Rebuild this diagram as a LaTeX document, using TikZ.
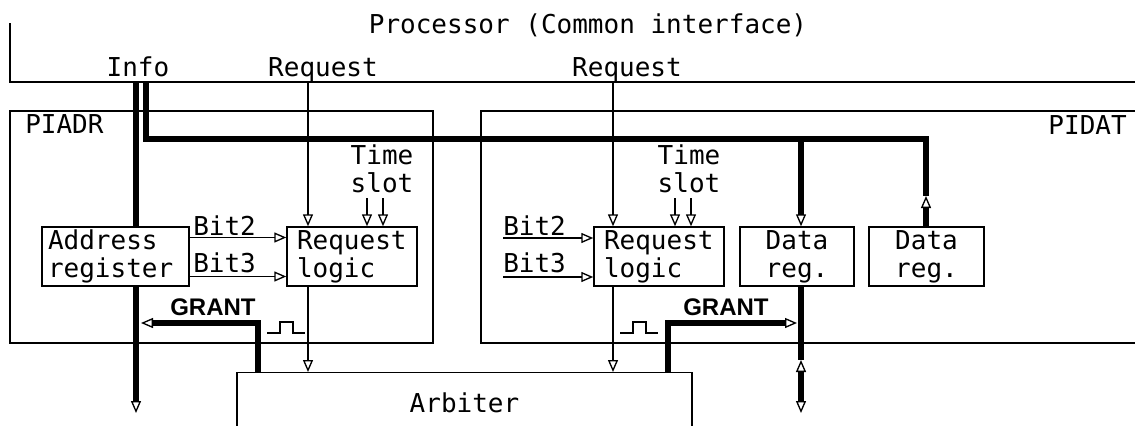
\documentclass[tikz,border=0pt]{standalone}
\usepackage{fontspec}
\newfontfamily\diagfont{DejaVu Sans Mono}
\newfontfamily\grantfont{Liberation Sans}
\usetikzlibrary{arrows.meta, calc, positioning}

\begin{document}
\begin{tikzpicture}[
  x=0.75pt, y=-0.75pt,
  lbl/.style={inner sep=0pt, font=\diagfont\fontsize{19.5}{21}\selectfont},
  blk/.style={draw, line width=1.1pt, fill=white, minimum height=44.25pt, inner ysep=0pt, font=\diagfont\fontsize{19.5}{21}\selectfont},
  cont/.style={draw, line width=1.1pt, inner sep=0pt},
  otip/.tip={Triangle[open, length=9pt, width=7.5pt, line width=1pt]},
  sarr/.style={line width=1.1pt, -otip},
  thk/.style={line width=4.5pt},
  gnt/.style={inner sep=0pt, font=\grantfont\bfseries\fontsize{18}{20}\selectfont}
]
  \useasboundingbox (0,0) rectangle (1135,425);
  \clip (0,0) rectangle (1135,425);

  % 1. Processor bus
  \node[lbl, anchor=base] (proc) at (588,33) {Processor (Common interface)};
  \coordinate (ptop) at (10,23);
  \coordinate (busL) at (10,82);
  \coordinate (busR) at (1140,82);
  \draw[line width=1.1pt] (ptop) -- (busL) -- (busR);
  \node[lbl, anchor=base] (info) at (138,76) {Info};
  \node[lbl, anchor=base] (req1) at (323,76) {Request};
  \node[lbl, anchor=base] (req2) at (627,76) {Request};

  % 2. Interfaces
  \node[cont, minimum width=317.25pt, minimum height=174pt] (piadr) at (221.5,227) {};
  \node[cont, minimum width=501.75pt, minimum height=174pt] (pidat) at (815.5,227) {};
  \node[lbl, anchor=base west] (piadrl) at (25,133) {PIADR};
  \node[lbl, anchor=base east] (pidatl) at (1127,134) {PIDAT};

  % Arbiter
  \node[cont, lbl, draw, line width=1.1pt, anchor=north, minimum width=341.25pt, minimum height=45pt] (arb) at (464.5,372) {Arbiter};

  % Blocks
  \node[blk, text width=101.25pt, inner xsep=4.5pt, align=left] (adr) at (115.5,256.5) {Address\\register};
  \node[blk, text width=82.5pt, inner xsep=7.5pt, align=left] (rl1) at (352,256.5) {Request\\logic};
  \node[blk, text width=82.5pt, inner xsep=7.5pt, align=left] (rl2) at (659,256.5) {Request\\logic};
  \node[blk, minimum width=85.5pt, align=center] (dr1) at (797,256.5) {Data\\reg.};
  \node[blk, minimum width=86.25pt, align=center] (dr2) at (926.5,256.5) {Data\\reg.};

  % 3. Info lines
  \coordinate (infoA) at (136,82);
  \coordinate (infoB) at (146,82);
  \coordinate (infoE) at (136,413);
  \coordinate (tap1) at (801,139);
  \coordinate (up2) at (926,196);
  \coordinate (io1) at (801,360);
  \coordinate (io2) at (801,413);
  \draw[thk] (infoA) -- (infoA |- adr.north);
  \draw[thk, -otip] (infoA |- adr.south) -- (infoE);
  \draw[thk] (infoB) |- (tap1) -| (up2);
  \draw[thk, -otip] (up2 |- dr2.north) -- (up2);
  \draw[thk, -otip] (tap1) -- (tap1 |- dr1.north);
  \draw[thk] (tap1 |- dr1.south) -- (io1);
  \draw[thk, otip-otip] (io1) -- (io2);

  % GRANT
  \coordinate (g1c) at (258,323);
  \coordinate (g1e) at (141,323);
  \coordinate (g2c) at (668,323);
  \coordinate (g2e) at (797,323);
  \draw[thk, -otip] (g1c |- arb.north) -- (g1c) -- (g1e);
  \draw[thk, -otip] (g2c |- arb.north) -- (g2c) -- (g2e);
  \node[gnt, anchor=base west] (grant1) at (170,315) {GRANT};
  \node[gnt, anchor=base west] (grant2) at (683,315) {GRANT};
  \draw[line width=1.1pt] (267,333) -- ++(13,0) -- ++(0,-11) -- ++(13,0) -- ++(0,11) -- ++(12,0);
  \draw[line width=1.1pt] (620,333) -- ++(13,0) -- ++(0,-11) -- ++(13,0) -- ++(0,11) -- ++(12,0);

  % 4. Requests
  \coordinate (rq1) at (308,82);
  \coordinate (rq2) at (613,82);
  \draw[sarr] (rq1) -- (rq1 |- rl1.north);
  \draw[sarr] (rq1 |- rl1.south) -- (rq1 |- arb.north);
  \draw[sarr] (rq2) -- (rq2 |- rl2.north);
  \draw[sarr] (rq2 |- rl2.south) -- (rq2 |- arb.north);

  % Bits
  \draw[sarr] ($(adr.east)+(0,-19)$) -- ($(rl1.west)+(0,-19)$);
  \draw[sarr] ($(adr.east)+(0,20)$) -- ($(rl1.west)+(0,20)$);
  \node[lbl, anchor=base west] (b2a) at (193,235) {Bit2};
  \node[lbl, anchor=base west] (b3a) at (193,272) {Bit3};
  \coordinate (b2in) at (503,238);
  \coordinate (b3in) at (503,277);
  \draw[sarr] (b2in) -- (b2in -| rl2.west);
  \draw[sarr] (b3in) -- (b3in -| rl2.west);
  \node[lbl, anchor=base west] (b2b) at (503,235) {Bit2};
  \node[lbl, anchor=base west] (b3b) at (503,272) {Bit3};

  % Time slots
  \node[lbl, align=center] (ts1) at (382,169) {Time\\slot};
  \node[lbl, align=center] (ts2) at (689,169) {Time\\slot};
  \foreach \x in {367,383} \draw[sarr] (\x,198) -- (\x,198 |- rl1.north);
  \foreach \x in {675,691} \draw[sarr] (\x,198) -- (\x,198 |- rl2.north);

\end{tikzpicture}
\end{document}
